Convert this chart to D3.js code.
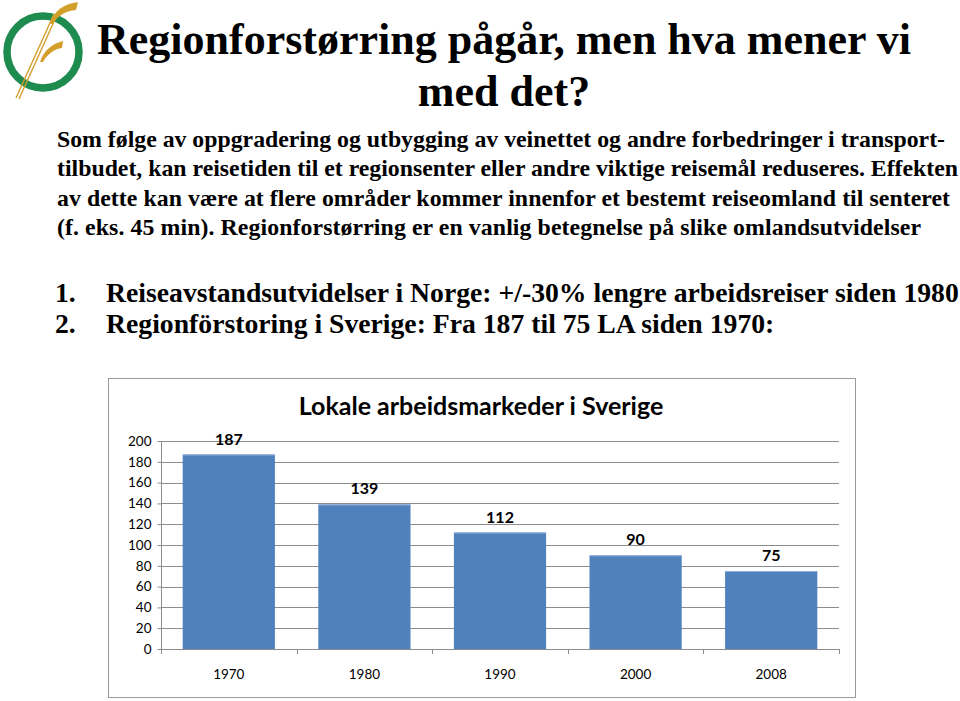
<!DOCTYPE html>
<html>
<head>
<meta charset="utf-8">
<script src="https://cdn.jsdelivr.net/npm/d3@7"></script>
<style>
  body { margin: 0; background: #fff; }
  svg { display: block; }
</style>
</head>
<body>
<div id="slide"></div>
<script>
// chart data
var years = ["1970", "1980", "1990", "2000", "2008"];
var laCount = [187, 139, 112, 90, 75];
var yTicks = [0, 20, 40, 60, 80, 100, 120, 140, 160, 180, 200];

// slide texts
var titleLines = ["Regionforstørring pågår, men hva mener vi", "med det?"];
var introLines = [
    "Som følge av oppgradering og utbygging av veinettet og andre forbedringer i transport-",
    "tilbudet, kan reisetiden til et regionsenter eller andre viktige reisemål reduseres. Effekten",
    "av dette kan være at flere områder kommer innenfor et bestemt  reiseomland til senteret",
    "(f. eks. 45 min). Regionforstørring er en vanlig betegnelse på slike omlandsutvidelser"
];
// line widths in the justified paragraph
var introWidths = [888, 901, 893, 864];
var listItems = [
    "Reiseavstandsutvidelser i Norge: +/-30% lengre arbeidsreiser siden 1980",
    "Regionförstoring i Sverige: Fra 187 til 75 LA siden 1970:"
];

var serif = "'Liberation Serif', 'Times New Roman', serif";

var svg = d3.select("#slide").append("svg")
    .attr("width", 960)
    .attr("height", 701);

/* logo */
var logo = svg.append("g");
logo.append("circle")
    .attr("cx", 43).attr("cy", 52).attr("r", 36)
    .attr("fill", "none")
    .attr("stroke", "#1e8b4f")
    .attr("stroke-width", 7.5);
logo.append("path")
    .attr("d", "M16 98 L54 14 M19 99 L57 15")
    .attr("stroke", "#d39f2b").attr("stroke-width", 1.4).attr("fill", "none");
logo.append("path")
    .attr("d", "M50 24 C54 10 64 4 78 2 L76 10 C66 11 58 15 53 24 Z")
    .attr("fill", "#d39f2b");
logo.append("path")
    .attr("d", "M40 62 C44 50 52 44 63 41 L62 48 C55 49 48 53 43 62 Z")
    .attr("fill", "#d39f2b");

/* title */
svg.append("g").selectAll("text")
    .data(titleLines)
  .enter().append("text")
    .attr("x", 504)
    .attr("y", function(d, i) { return 54 + i * 52; })
    .attr("text-anchor", "middle")
    .style("font-family", serif)
    .style("font-weight", "bold")
    .style("font-size", "44px")
    .text(function(d) { return d; });

/* intro paragraph */
svg.append("g").selectAll("text")
    .data(introLines)
  .enter().append("text")
    .attr("x", 57)
    .attr("y", function(d, i) { return 147 + i * 29.4; })
    .attr("textLength", function(d, i) { return introWidths[i]; })
    .attr("lengthAdjust", "spacing")
    .style("font-family", serif)
    .style("font-weight", "bold")
    .style("font-size", "23.8px")
    .text(function(d) { return d; });

/* numbered list */
var items = svg.append("g").selectAll("g")
    .data(listItems)
  .enter().append("g")
    .attr("transform", function(d, i) { return "translate(0," + (301.5 + i * 31.5) + ")"; })
    .style("font-family", serif)
    .style("font-weight", "bold")
    .style("font-size", "27.7px");
items.append("text")
    .attr("x", 55)
    .text(function(d, i) { return (i + 1) + "."; });
items.append("text")
    .attr("x", 106)
    .text(function(d) { return d; });

/* chart */
var box = { x: 108, y: 378, w: 747, h: 319 };
svg.append("rect")
    .attr("x", box.x + 0.5).attr("y", box.y + 0.5)
    .attr("width", box.w).attr("height", box.h)
    .attr("fill", "#fff")
    .attr("stroke", "#9a9a9a");

var plot = { left: 161, right: 839, top: 441, bottom: 649 };

var x = d3.scaleBand()
    .domain(years)
    .range([plot.left, plot.right])
    .paddingInner(0.32)
    .paddingOuter(0.16);

var xTickScale = d3.scaleLinear()
    .domain([0, years.length])
    .range([plot.left, plot.right]);

var y = d3.scaleLinear()
    .domain([0, 200])
    .range([plot.bottom, plot.top]);

var chartFont = "Lato, Calibri, 'Open Sans', sans-serif";

svg.append("text")
    .attr("x", 481)
    .attr("y", 415)
    .attr("text-anchor", "middle")
    .style("font-family", chartFont)
    .style("font-weight", "bold")
    .style("font-size", "25px")
    .text("Lokale arbeidsmarkeder i Sverige");

// gridlines
svg.append("g").selectAll("line")
    .data(yTicks.slice(1))
  .enter().append("line")
    .attr("x1", plot.left).attr("x2", plot.right)
    .attr("y1", function(d) { return Math.round(y(d)) + 0.5; })
    .attr("y2", function(d) { return Math.round(y(d)) + 0.5; })
    .attr("stroke", "#8c8c8c");

// y axis
var yAxis = svg.append("g")
    .attr("transform", "translate(" + (plot.left + 0.5) + ",0)")
    .call(d3.axisLeft(y).tickValues(yTicks).tickSize(4).tickPadding(6));
yAxis.selectAll("text")
    .style("font-family", chartFont)
    .style("font-size", "13.5px")
    .attr("fill", "#000");
yAxis.selectAll("line, path").attr("stroke", "#8c8c8c");
yAxis.select(".domain").attr("d", "M0," + (plot.top) + "V" + (plot.bottom + 0.5));

// bars
svg.append("g").selectAll("rect")
    .data(laCount)
  .enter().append("rect")
    .attr("x", function(d, i) { return x(years[i]); })
    .attr("y", function(d) { return y(d); })
    .attr("width", x.bandwidth())
    .attr("height", function(d) { return y(0) - y(d); })
    .attr("fill", "#4f81bd");

svg.append("g").selectAll("line")
    .data(laCount)
  .enter().append("line")
    .attr("x1", function(d, i) { return x(years[i]); })
    .attr("x2", function(d, i) { return x(years[i]) + x.bandwidth(); })
    .attr("y1", function(d) { return y(d) + 0.5; })
    .attr("y2", function(d) { return y(d) + 0.5; })
    .attr("stroke", "#8eaedb");

// value labels
svg.append("g").selectAll("text")
    .data(laCount)
  .enter().append("text")
    .attr("x", function(d, i) { return x(years[i]) + x.bandwidth() / 2; })
    .attr("y", function(d) { return y(d) - 10; })
    .attr("text-anchor", "middle")
    .style("font-family", chartFont)
    .style("font-weight", "bold")
    .style("font-size", "16px")
    .text(function(d) { return d; });

// x axis
svg.append("line")
    .attr("x1", plot.left).attr("x2", plot.right + 1)
    .attr("y1", plot.bottom + 0.5).attr("y2", plot.bottom + 0.5)
    .attr("stroke", "#8c8c8c");
svg.append("g").selectAll("line")
    .data(d3.range(years.length + 1))
  .enter().append("line")
    .attr("x1", function(d) { return Math.round(xTickScale(d)) + 0.5; })
    .attr("x2", function(d) { return Math.round(xTickScale(d)) + 0.5; })
    .attr("y1", plot.bottom)
    .attr("y2", plot.bottom + 5)
    .attr("stroke", "#8c8c8c");
svg.append("g").selectAll("text")
    .data(years)
  .enter().append("text")
    .attr("x", function(d) { return x(d) + x.bandwidth() / 2; })
    .attr("y", 679)
    .attr("text-anchor", "middle")
    .style("font-family", chartFont)
    .style("font-size", "13.5px")
    .text(function(d) { return d; });
</script>
</body>
</html>
